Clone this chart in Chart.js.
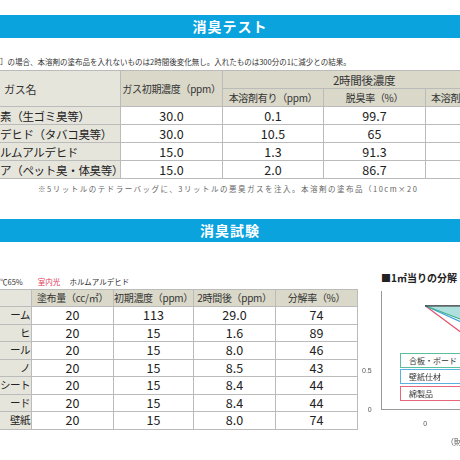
<!DOCTYPE html>
<html><head><meta charset="utf-8">
<script src="https://cdn.jsdelivr.net/npm/chart.js@4"></script>
<style>
html,body{margin:0;padding:0;width:460px;height:460px;overflow:hidden;background:#fff;font-family:"Noto Sans CJK JP","Noto Sans",sans-serif;color:#333}
.band{position:absolute;left:0;width:460px;height:23px;background:#0aa3de;color:#fff;font-weight:bold;font-size:14px;text-align:center;line-height:23px;letter-spacing:1px}
.abs{position:absolute;white-space:nowrap}
table{position:absolute;border-collapse:collapse;table-layout:fixed}
td{border:1px solid #bbb;text-align:center;padding:0;white-space:nowrap;overflow:hidden;font-size:12.5px;line-height:12px;color:#222}
.h{background:#d9d8c9;font-size:10px;color:#333;letter-spacing:-0.3px}
.c0{background:#e6e5dc;text-align:left;padding-left:3px;font-size:12px}
.lg{position:absolute;left:400px;width:80px;height:13px;font-size:8px;line-height:13px;text-indent:8px;background:#fff;white-space:nowrap}
</style></head><body>
<div class="band" style="top:15px">消臭テスト</div>
<div class="abs" style="top:56px;left:0;font-size:7.5px;color:#333">］の場合、本溶剤の塗布品を入れないものは2時間後変化無し。入れたものは300分の1に減少との結果。</div>
<table id="t1" style="left:-1px;top:70px;width:470px">
<colgroup><col style="width:121px"><col style="width:102px"><col style="width:101px"><col style="width:102px"><col style="width:44px"></colgroup>
<tr style="height:18px"><td class="h c0" rowspan="2" style="font-size:11px;padding-left:4px">ガス名</td><td class="h" rowspan="2">ガス初期濃度（ppm）</td><td class="h" colspan="3" style="font-size:11.5px;text-align:left;padding-left:110px">2時間後濃度</td></tr>
<tr style="height:18px"><td class="h">本溶剤有り（ppm）</td><td class="h">脱臭率（%）</td><td class="h" style="text-align:left;padding-left:5px">本溶剤</td></tr>
<tbody id="b1"></tbody></table>
<div class="abs" style="top:183px;left:38px;font-size:7.5px;color:#666;letter-spacing:1.5px">※5リットルのテドラーバッグに、3リットルの悪臭ガスを注入。本溶剤の塗布品（10cm×20</div>
<div class="band" style="top:219px">消臭試験</div>
<div class="abs" style="top:276px;left:0;font-size:7.5px;color:#333">℃65%　　<span style="color:#e23b5a">室内光</span>　 ホルムアルデヒド</div>
<table style="left:-1px;top:289px;width:358px">
<colgroup><col style="width:32px"><col style="width:82px"><col style="width:80px"><col style="width:82px"><col style="width:82px"></colgroup>
<tr style="height:17px"><td class="h c0"></td><td class="h">塗布量（cc/㎡）</td><td class="h">初期濃度（ppm）</td><td class="h">2時間後（ppm）</td><td class="h">分解率（%）</td></tr>
<tbody id="b2"></tbody></table>
<div class="abs" style="top:270px;left:381px;font-size:10px;font-weight:bold;color:#222">■1㎡当りの分解</div>
<div class="abs" style="left:360px;top:285px;width:200px;height:145px"><canvas id="c"></canvas></div>
<div class="lg" style="top:353px;border:1px solid #5bbf9a">合板・ボード</div>
<div class="lg" style="top:369px;border:1px solid #5ab0e0">壁紙仕材</div>
<div class="lg" style="top:386px;border:1px solid #e8667a">綿製品</div>
<div class="abs" style="top:436px;left:446px;font-size:8px;color:#555">（財</div>
<script>
const gasNames=["素（生ゴミ臭等）","デヒド（タバコ臭等）","ルムアルデヒド","ア（ペット臭・体臭等）"];
const gasInit=["30.0","30.0","15.0","15.0"];
const gasAfter=["0.1","10.5","1.3","2.0"];
const gasRate=["99.7","65","91.3","86.7"];
const matNames=["ーム","ヒ","ール","ノ","シート","ード","壁紙"];
const matCoat=["20","20","20","20","20","20","20"];
const matInit=["113","15","15","15","15","15","15"];
const matAfter=["29.0","1.6","8.0","8.5","8.4","8.4","8.0"];
const matRate=["74","89","46","43","44","44","74"];
const chartX=[0,1];
const baseLine=[1.35,1.35];
const boardLine=[1.35,0.98];
const wallLine=[1.35,0.91];
const clothLine=[1.35,0.63];
let h="";
gasNames.forEach((n,i)=>{h+=`<tr style="height:18px"><td class="c0" style="font-size:11.5px;padding-left:0;letter-spacing:-0.3px">${n}</td><td>${gasInit[i]}</td><td>${gasAfter[i]}</td><td>${gasRate[i]}</td><td></td></tr>`});
document.getElementById("b1").innerHTML=h;
h="";
matNames.forEach((n,i)=>{h+=`<tr style="height:17.5px"><td class="c0" style="text-align:right;padding-right:1px;padding-left:0;font-size:10.5px;letter-spacing:-0.5px">${n}</td><td>${matCoat[i]}</td><td>${matInit[i]}</td><td>${matAfter[i]}</td><td>${matRate[i]}</td></tr>`});
document.getElementById("b2").innerHTML=h;
const pts=a=>chartX.map((x,i)=>({x,y:a[i]}));
new Chart(document.getElementById("c"),{type:"line",
data:{datasets:[
{data:pts(baseLine),borderColor:"#333",borderWidth:1.2,pointRadius:0,fill:false},
{data:pts(boardLine),borderColor:"#3fb08a",borderWidth:1.2,pointRadius:0,fill:"-1",backgroundColor:"rgba(120,205,200,0.6)"},
{data:pts(wallLine),borderColor:"#3aa0dd",borderWidth:1.2,pointRadius:0,fill:false},
{data:pts(clothLine),borderColor:"#e5506a",borderWidth:1.2,pointRadius:0,fill:false}]},
options:{responsive:true,maintainAspectRatio:false,animation:false,layout:{padding:0},
plugins:{legend:{display:false},tooltip:{enabled:false}},
scales:{
x:{type:"linear",min:-0.58,max:1.8,grid:{display:false},border:{color:"#999"},afterBuildTicks:s=>{s.ticks=[{value:0}]},ticks:{font:{size:7},color:"#555",padding:2}},
y:{min:0,max:1.54,grid:{display:false},border:{color:"#999"},afterBuildTicks:s=>{s.ticks=[{value:0},{value:0.5}]},ticks:{font:{size:7},color:"#555",padding:2}}}}});
</script>
</body></html>
